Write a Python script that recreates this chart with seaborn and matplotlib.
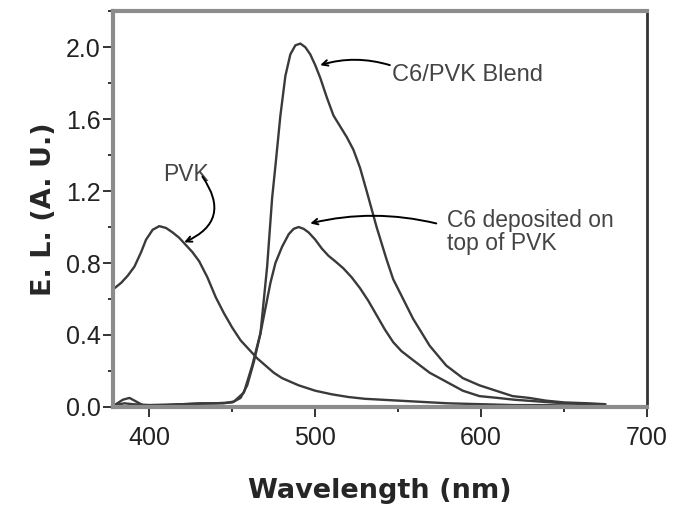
import numpy as np
import pandas as pd
import matplotlib
matplotlib.use('Agg')
import matplotlib.pyplot as plt
import seaborn as sns
from matplotlib.ticker import MultipleLocator, FormatStrFormatter

sns.set_style("ticks")
plt.rcParams['font.family'] = ['Liberation Sans', 'DejaVu Sans']

# PVK only
pvk_wl = [379, 383, 387, 391, 395, 398, 402, 406, 410, 414, 418, 422, 426, 430, 435, 440, 445,
          450, 455, 460, 465, 470, 475, 480, 490, 500, 510, 520, 530, 540, 550, 560,
          580, 600, 620, 640, 660, 675]
pvk_el = [0.66, 0.69, 0.73, 0.78, 0.86, 0.93, 0.985, 1.005, 0.995, 0.97, 0.94, 0.90, 0.86, 0.81, 0.72, 0.61, 0.52,
          0.44, 0.37, 0.32, 0.27, 0.23, 0.19, 0.16, 0.12, 0.09, 0.07, 0.055, 0.045, 0.04, 0.035, 0.03,
          0.02, 0.015, 0.01, 0.01, 0.005, 0.005]

# C6 deposited on top of PVK
top_wl = [379, 385, 390, 400, 420, 440, 450, 455, 459, 463, 467, 470, 473, 476, 480, 484,
          487, 490, 493, 496, 500, 504, 508, 512, 517, 522, 527, 532, 537, 542, 547, 552, 559, 569,
          579, 589, 599, 610, 620, 635, 650, 665, 672]
top_el = [0.01, 0.02, 0.015, 0.01, 0.015, 0.02, 0.025, 0.05, 0.12, 0.25, 0.41, 0.55, 0.69, 0.80, 0.89, 0.96,
          0.99, 1.0, 0.99, 0.97, 0.93, 0.88, 0.84, 0.81, 0.77, 0.72, 0.66, 0.59, 0.51, 0.43, 0.36, 0.31, 0.26, 0.19,
          0.14, 0.09, 0.06, 0.05, 0.04, 0.03, 0.02, 0.015, 0.01]

# C6/PVK blend
blend_wl = [379, 384, 388, 392, 396, 410, 430, 445, 451, 457, 462, 467, 471, 474, 476, 479,
            482, 485, 488, 491, 494, 497, 500, 503, 507, 511, 515, 519, 523, 527, 531, 537, 543, 547, 553,
            559, 569, 579, 589, 599, 609, 619, 629, 639, 650, 665, 675]
blend_el = [0.01, 0.04, 0.05, 0.03, 0.01, 0.01, 0.02, 0.02, 0.03, 0.08, 0.23, 0.41, 0.78, 1.16, 1.34, 1.62,
            1.84, 1.96, 2.01, 2.02, 2.0, 1.96, 1.90, 1.83, 1.72, 1.62, 1.56, 1.50, 1.43, 1.33, 1.20, 1.00, 0.82, 0.71, 0.60,
            0.49, 0.34, 0.23, 0.16, 0.12, 0.09, 0.06, 0.05, 0.035, 0.025, 0.02, 0.015]

line_color = '#3a3a3a'

fig = plt.figure(figsize=(6.76, 5.08), dpi=100)
ax = fig.add_axes([0.167, 0.199, 0.79, 0.779])

for wl, el in [(pvk_wl, pvk_el), (top_wl, top_el), (blend_wl, blend_el)]:
    sns.lineplot(x=wl, y=el, ax=ax, color=line_color, linewidth=1.7, sort=False)

ax.set_xlim(378, 700)
ax.set_ylim(0, 2.2)
ax.xaxis.set_major_locator(MultipleLocator(100))
ax.xaxis.set_minor_locator(MultipleLocator(50))
ax.yaxis.set_major_locator(MultipleLocator(0.4))
ax.yaxis.set_minor_locator(MultipleLocator(0.2))
ax.yaxis.set_major_formatter(FormatStrFormatter('%.1f'))

ax.tick_params(axis='both', which='major', direction='out', length=7, width=1.4,
               color='#333333', labelsize=18, labelcolor='#222222')
ax.tick_params(axis='x', which='major', pad=7)
ax.tick_params(axis='y', which='major', pad=2)
ax.tick_params(axis='both', which='minor', direction='out', length=3.5, width=1.4, color='#333333')

for side in ['left', 'bottom', 'top']:
    ax.spines[side].set_color('#8c8c8c')
    ax.spines[side].set_linewidth(3)
ax.spines['right'].set_color('#333333')
ax.spines['right'].set_linewidth(2)

ax.set_xlabel('Wavelength (nm)', fontsize=19.5, fontweight='bold', family='DejaVu Sans', labelpad=20)
ax.set_ylabel('E. L. (A. U.)', fontsize=19.5, fontweight='bold', family='DejaVu Sans', labelpad=6)

txt_color = '#444444'
ax.text(546, 1.845, 'C6/PVK Blend', fontsize=17, color=txt_color, ha='left', va='center')
ax.text(579.5, 0.975, 'C6 deposited on\ntop of PVK', fontsize=16.5, color=txt_color,
        ha='left', va='center', linespacing=1.0)
ax.text(408.4, 1.294, 'PVK', fontsize=16.5, color=txt_color, ha='left', va='center')

arrow_kw = dict(arrowstyle='->', color='black', lw=1.4, shrinkA=0, shrinkB=0)
ax.annotate('', xy=(503, 1.90), xytext=(545, 1.90),
            arrowprops=dict(connectionstyle='arc3,rad=0.15', **arrow_kw))
ax.annotate('', xy=(497, 1.02), xytext=(573, 1.02),
            arrowprops=dict(connectionstyle='arc3,rad=0.12', **arrow_kw))
ax.annotate('', xy=(421, 0.915), xytext=(432, 1.28),
            arrowprops=dict(connectionstyle='arc3,rad=-0.6', **arrow_kw))

fig.savefig('out.png', dpi=100)
